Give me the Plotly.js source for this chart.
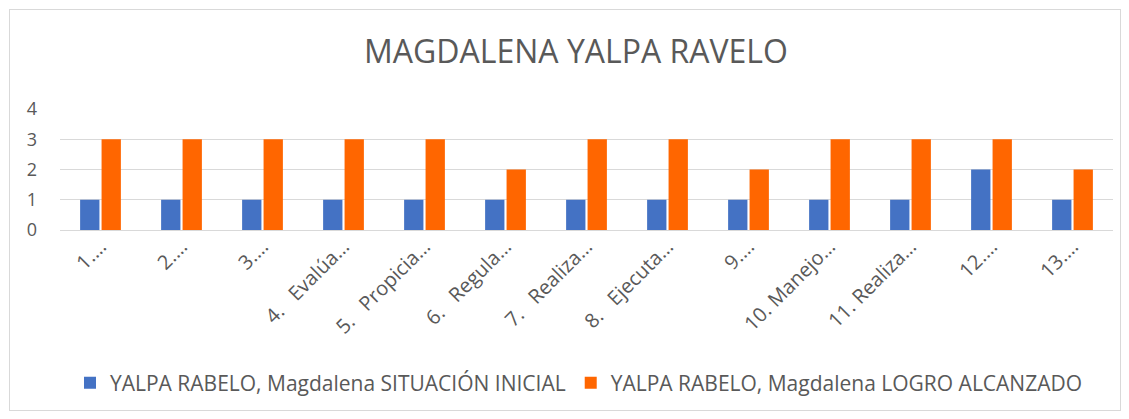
<!DOCTYPE html>
<html>
<head>
<meta charset="utf-8">
<script src="https://cdn.plot.ly/plotly-3.0.1.min.js"></script>
<style>
  html, body { margin: 0; padding: 0; background: #fff; }
  #frame { position: absolute; left: 9px; top: 9px; width: 1110px; height: 400px; border: 1px solid #d9d9d9; }
  #chart { position: absolute; left: 0; top: 0; width: 1129px; height: 419px; }
</style>
</head>
<body>
<div id="frame"></div>
<div id="chart"></div>
<script>
const NB = '\u00a0';
const categories = [
  '1.…', '2.…', '3.…',
  '4.' + NB + NB + NB + 'Evalúa…',
  '5.' + NB + NB + NB + 'Propicia…',
  '6.' + NB + NB + NB + 'Regula…',
  '7.' + NB + NB + NB + 'Realiza…',
  '8.' + NB + NB + NB + 'Ejecuta…',
  '9.…',
  '10. Manejo…',
  '11. Realiza…',
  '12.…', '13.…'
];
const situacionInicial = [1, 1, 1, 1, 1, 1, 1, 1, 1, 1, 1, 2, 1];
const logroAlcanzado   = [3, 3, 3, 3, 3, 2, 3, 3, 2, 3, 3, 3, 2];
const seriesNames = ['YALPA RABELO, Magdalena SITUACIÓN INICIAL', 'YALPA RABELO, Magdalena LOGRO ALCANZADO'];
const titleText = 'MAGDALENA YALPA RAVELO';

const font = 'Open Sans, Noto Sans, sans-serif';
const txt = '#595959';

const data = [
  { type: 'bar', x: categories, y: situacionInicial, name: seriesNames[0], marker: { color: '#4472C4' } },
  { type: 'bar', x: categories, y: logroAlcanzado, name: seriesNames[1], marker: { color: '#FF6600' } }
];

const layout = {
  width: 1129, height: 419,
  paper_bgcolor: 'rgba(0,0,0,0)', plot_bgcolor: 'rgba(0,0,0,0)',
  margin: { l: 60, r: 16, t: 109, b: 189 },
  barmode: 'group', bargap: 0.47, bargroupgap: 0.1,
  showlegend: true,
  title: { text: titleText, font: { family: font, size: 32, color: txt }, x: 576 / 1129, xanchor: 'center', xref: 'container', y: 1 - 52/419, yanchor: 'middle' },
  xaxis: {
    tickangle: -45, tickfont: { family: font, size: 20, color: txt },
    showgrid: false, showline: false, ticks: '', fixedrange: true
  },
  yaxis: {
    range: [0, 4], dtick: 1, tickfont: { family: font, size: 18, color: txt },
    gridcolor: '#d9d9d9', gridwidth: 1, zeroline: true, zerolinecolor: '#d9d9d9', zerolinewidth: 1,
    showline: false, ticks: '', ticklabelstandoff: 22
  },
  legend: {
    orientation: 'h', x: (579 - 60) / 1053, xanchor: 'center', y: (230 - 383) / 121, yanchor: 'middle',
    font: { family: font, size: 21, color: txt }, itemwidth: 30, tracegroupgap: 0
  }
};

Plotly.newPlot('chart', data, layout, { displayModeBar: false, staticPlot: true });
</script>
</body>
</html>
